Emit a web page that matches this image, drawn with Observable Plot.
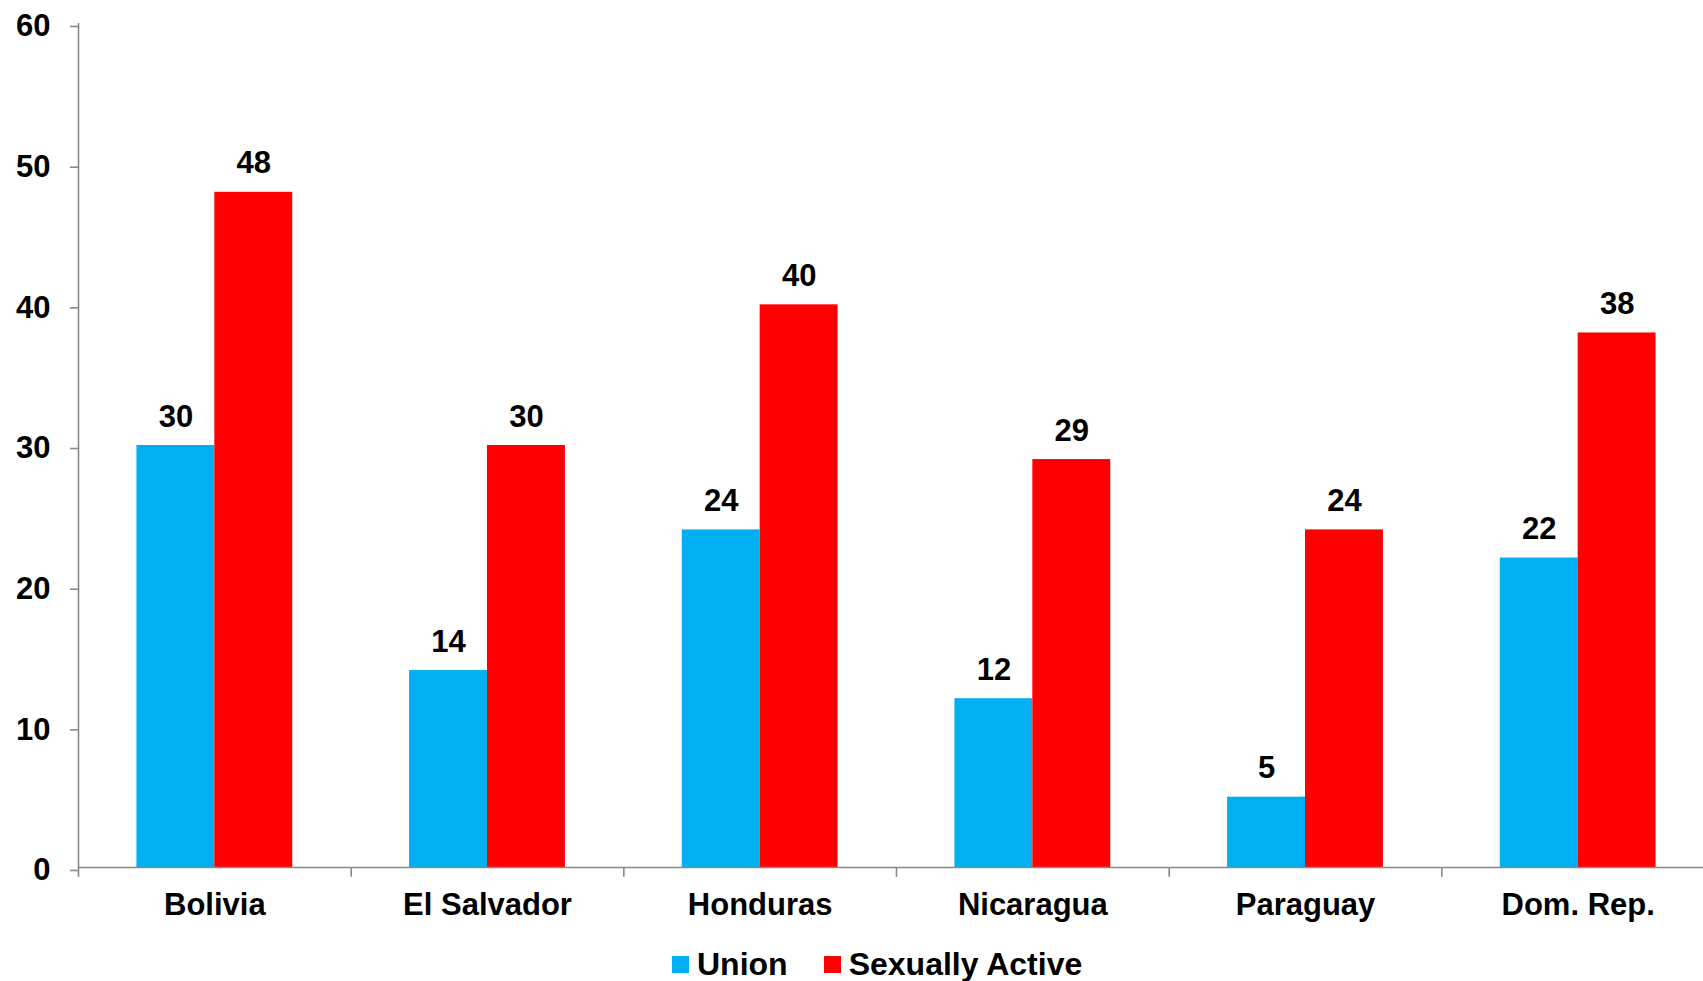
<!DOCTYPE html>
<html>
<head>
<meta charset="utf-8">
<script src="https://cdn.jsdelivr.net/npm/d3@7"></script>
<script src="https://cdn.jsdelivr.net/npm/@observablehq/plot@0.6"></script>
<style>
  html, body { margin: 0; padding: 0; background: #fff; overflow: hidden; }
  #wrap { position: relative; width: 1703px; height: 981px; font-family: "Liberation Sans", Arial, sans-serif; }
  #legend { position: absolute; left: 672px; top: 948px; display: flex; align-items: center; font-size: 32px; font-weight: bold; line-height: 32px; color: #000; }
  .item { display: flex; align-items: center; }
  .sw { width: 17px; height: 17px; margin-right: 8px; }
</style>
</head>
<body>
<div id="wrap"><div id="chart"></div><div id="legend"></div></div>
<script>
const countries = ["Bolivia", "El Salvador", "Honduras", "Nicaragua", "Paraguay", "Dom. Rep."];
const series = ["Union", "Sexually Active"];
const unionValues = [30, 14, 24, 12, 5, 22];
const activeValues = [48, 30, 40, 29, 24, 38];
const yTicks = [0, 10, 20, 30, 40, 50, 60];
const colors = ["#00B0F0", "#FF0000"];

const rows = [];
countries.forEach((c, i) => {
  rows.push({country: c, series: series[0], value: unionValues[i]});
  rows.push({country: c, series: series[1], value: activeValues[i]});
});

const W = 1703, H = 935, mL = 78, mR = -11, mT = 23, mB = 68;
const facetW = (W - mL - mR) / countries.length;
const padOuter = 0.75;
const step = facetW / (series.length + 2 * padOuter);
const edgeDx = -(padOuter * step + step / 2);
const gray = "#898989";
const font = "Liberation Sans, Arial, sans-serif";

const plot = Plot.plot({
  width: W, height: H,
  marginLeft: mL, marginRight: mR, marginTop: mT, marginBottom: mB,
  style: {fontFamily: font, color: "#000", background: "#fff"},
  fx: {domain: countries, padding: 0, round: false, label: null},
  x: {domain: series, paddingInner: 0, paddingOuter: padOuter, round: false, axis: null},
  y: {domain: [0, 60], axis: null},
  color: {domain: series, range: colors},
  marks: [
    Plot.barY(rows, {fx: "country", x: "series", y: "value", fill: "series"}),
    Plot.ruleY([0], {stroke: gray, strokeWidth: 1.6}),
    Plot.ruleX([countries[0]], {fx: d => d, x: () => series[0], dx: edgeDx, y1: 0, y2: 60, stroke: gray, strokeWidth: 1.6}),
    Plot.ruleX(countries, {fx: d => d, x: () => series[0], dx: edgeDx, y1: 0, y2: -0.7, stroke: gray, strokeWidth: 1.6}),
    Plot.text(rows, {fx: "country", x: "series", y: "value", text: d => String(d.value), lineAnchor: "bottom", dy: -19, fontSize: 31, fontWeight: "bold", fill: "#000"}),
    Plot.axisY({ticks: yTicks, tickSize: 8, tickPadding: 20, fontSize: 31, fontWeight: "bold", dy: 3, stroke: gray, strokeWidth: 1.6, fill: "#000", label: null, tickFormat: d => String(d)}),
    Plot.axisFx({anchor: "bottom", tickSize: 0, tickPadding: 25, fontSize: 31, fontWeight: "bold", fill: "#000", label: null})
  ]
});
document.getElementById("chart").appendChild(plot);

const legend = document.getElementById("legend");
series.forEach((s, i) => {
  const item = document.createElement("div");
  item.className = "item";
  if (i > 0) item.style.marginLeft = "36px";
  const sw = document.createElement("span");
  sw.className = "sw";
  sw.style.background = colors[i];
  const t = document.createElement("span");
  t.textContent = s;
  item.appendChild(sw);
  item.appendChild(t);
  legend.appendChild(item);
});
</script>
</body>
</html>
